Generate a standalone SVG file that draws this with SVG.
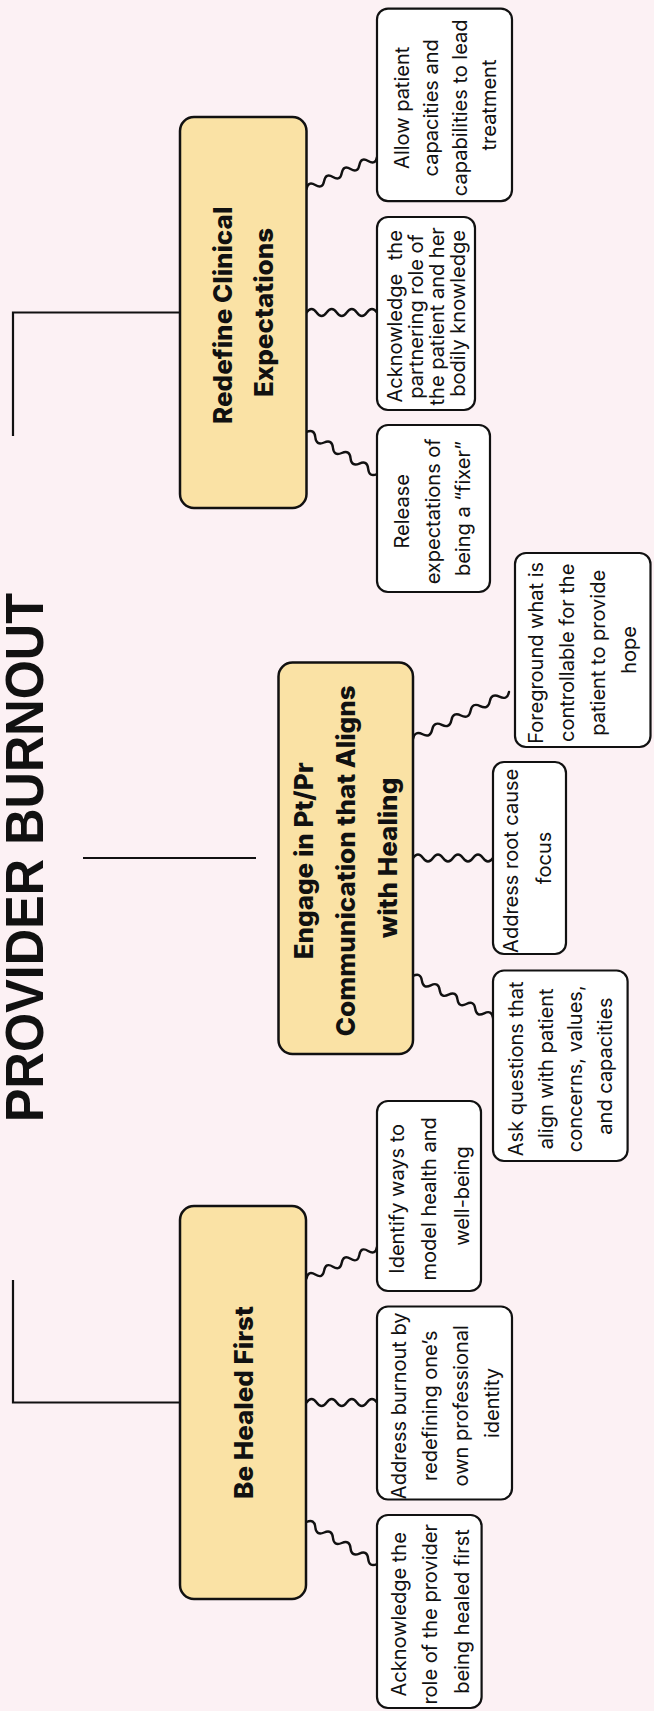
<svg xmlns="http://www.w3.org/2000/svg" width="654" height="1711" viewBox="0 0 654 1711">
  <style>
    .main rect { fill: #FAE2A5; stroke: #111; stroke-width: 2.5; }
    .leaf rect { fill: #FFFFFF; stroke: #111; stroke-width: 2.2; }
    .lbl { font-family: Inter, "Noto Sans", sans-serif; font-weight: 800; font-size: 26px; text-anchor: middle; fill: #111; }
    .txt { font-family: Inter, "Noto Sans", sans-serif; font-size: 20px; text-anchor: middle; fill: #111; }
    .title { font-family: "Liberation Sans", Arial, sans-serif; font-weight: 700; font-size: 54px; text-anchor: middle; fill: #111; }
    .wave { fill: none; stroke: #111; stroke-width: 2.4; stroke-linecap: round; stroke-linejoin: round; }
    .trunk { fill: none; stroke: #111; stroke-width: 2.2; }
  </style>

  <rect width="654" height="1711" fill="#FCF1F4"/>

  <!-- heading, reading bottom to top -->
  <text id="title" class="title" transform="rotate(-90)" x="-857.5" y="43" textLength="529" lengthAdjust="spacingAndGlyphs">PROVIDER BURNOUT</text>

  <!-- connectors: trunk lines and squiggly branches -->
  <g id="connectors">
    <path class="trunk" d="M182,312.5 H13 V436"/>
    <path class="trunk" d="M83,858 H256"/>
    <path class="trunk" d="M13,1280 V1402.5 H182"/>

    <path class="wave" transform="translate(306.5,189) rotate(-24.4)" d="M0,0q4.84,-7 9.68,0t9.68,0t9.68,0t9.68,0t9.68,0t9.68,0t9.68,0t9.68,0"/>
    <path class="wave" transform="translate(306.5,312.5)" d="M0,0q5.04,-7 10.07,0t10.07,0t10.07,0t10.07,0t10.07,0t10.07,0t10.07,0"/>
    <path class="wave" transform="translate(306.5,432) rotate(30.8)" d="M0,0q5.13,-7 10.26,0t10.26,0t10.26,0t10.26,0t10.26,0t10.26,0t10.26,0t10.26,0"/>

    <path class="wave" transform="translate(413,739) rotate(-26.1)" d="M0,0q5.35,-7 10.69,0t10.69,0t10.69,0t10.69,0t10.69,0t10.69,0t10.69,0t10.69,0t10.69,0t10.69,0"/>
    <path class="wave" transform="translate(413,858)" d="M0,0q5,-7 10,0t10,0t10,0t10,0t10,0t10,0t10,0t10,0"/>
    <path class="wave" transform="translate(413,976) rotate(27.7)" d="M0,0q5.02,-7 10.04,0t10.04,0t10.04,0t10.04,0t10.04,0t10.04,0t10.04,0t10.04,0t10.04,0"/>

    <path class="wave" transform="translate(306.5,1278.5) rotate(-24.1)" d="M0,0q4.83,-7 9.65,0t9.65,0t9.65,0t9.65,0t9.65,0t9.65,0t9.65,0t9.65,0"/>
    <path class="wave" transform="translate(306.5,1402.5)" d="M0,0q5.04,-7 10.07,0t10.07,0t10.07,0t10.07,0t10.07,0t10.07,0t10.07,0"/>
    <path class="wave" transform="translate(306.5,1522) rotate(30.8)" d="M0,0q5.13,-7 10.26,0t10.26,0t10.26,0t10.26,0t10.26,0t10.26,0t10.26,0t10.26,0"/>
  </g>

  <!-- main themes -->
  <g id="redefine" class="main">
    <rect x="180" y="117" width="126.5" height="391" rx="14"/>
    <text class="lbl" transform="rotate(-90)">
      <tspan x="-312.5" y="231.6">Redefine Clinical</tspan>
      <tspan x="-312.5" y="273.3">Expectations</tspan>
    </text>
  </g>

  <g id="engage" class="main">
    <rect x="278.5" y="662.5" width="134.5" height="391.5" rx="14"/>
    <text class="lbl" transform="rotate(-90)">
      <tspan x="-858" y="313.3">Engage in Pt/Pr</tspan>
      <tspan x="-858" y="355">Communication that Aligns</tspan>
      <tspan x="-858" y="396.7">with Healing</tspan>
    </text>
  </g>

  <g id="healed" class="main">
    <rect x="180" y="1206" width="126" height="393" rx="14"/>
    <text class="lbl" transform="rotate(-90)">
      <tspan x="-1402.5" y="253">Be Healed First</tspan>
    </text>
  </g>

  <!-- actions under "Redefine Clinical Expectations" -->
  <g id="allow" class="leaf">
    <rect x="377" y="8.6" width="135" height="192.5" rx="11"/>
    <text class="txt" transform="rotate(-90)">
      <tspan x="-105" y="408.5">Allow patient</tspan>
      <tspan x="-105" y="437.5">capacities and</tspan>
      <tspan x="-105" y="466.5">capabilities to lead</tspan>
      <tspan x="-105" y="495.5">treatment</tspan>
    </text>
  </g>

  <g id="partnering" class="leaf">
    <rect x="377" y="217" width="98" height="193" rx="11"/>
    <text class="txt" transform="rotate(-90)">
      <tspan x="-313.5" y="401.5" word-spacing="8">Acknowledge the</tspan>
      <tspan x="-313.5" y="423">partnering role of</tspan>
      <tspan x="-313.5" y="444">the patient and her</tspan>
      <tspan x="-313.5" y="465">bodily knowledge</tspan>
    </text>
  </g>

  <g id="fixer" class="leaf">
    <rect x="377" y="425" width="113" height="167" rx="11"/>
    <text class="txt" transform="rotate(-90)">
      <tspan x="-508.5" y="408.5">Release</tspan>
      <tspan x="-508.5" y="439.5">expectations of</tspan>
      <tspan x="-508.5" y="469.5">being a “fixer”</tspan>
    </text>
  </g>

  <!-- actions under "Engage in Pt/Pr Communication that Aligns with Healing" -->
  <g id="foreground" class="leaf">
    <rect x="515" y="553" width="135.5" height="194" rx="11"/>
    <text class="txt" transform="rotate(-90)">
      <tspan x="-650" y="542.5">Foreground what is</tspan>
      <tspan x="-650" y="573.5">controllable for the</tspan>
      <tspan x="-650" y="604.5">patient to provide</tspan>
      <tspan x="-650" y="635.5">hope</tspan>
    </text>
  </g>

  <g id="rootcause" class="leaf">
    <rect x="493" y="762" width="73" height="192" rx="11"/>
    <text class="txt" transform="rotate(-90)">
      <tspan x="-858" y="518">Address root cause</tspan>
      <tspan x="-858" y="551">focus</tspan>
    </text>
  </g>

  <g id="questions" class="leaf">
    <rect x="493" y="970.5" width="134.6" height="190.5" rx="11"/>
    <text class="txt" transform="rotate(-90)">
      <tspan x="-1066" y="523">Ask questions that</tspan>
      <tspan x="-1066" y="552.5">align with patient</tspan>
      <tspan x="-1066" y="582">concerns, values,</tspan>
      <tspan x="-1066" y="611.5">and capacities</tspan>
    </text>
  </g>

  <!-- actions under "Be Healed First" -->
  <g id="identify" class="leaf">
    <rect x="377" y="1101" width="104" height="190" rx="11"/>
    <text class="txt" transform="rotate(-90)">
      <tspan x="-1196" y="403.5">Identify ways to</tspan>
      <tspan x="-1196" y="436">model health and</tspan>
      <tspan x="-1196" y="468.5">well-being</tspan>
    </text>
  </g>

  <g id="identity" class="leaf">
    <rect x="377" y="1306.5" width="135" height="193" rx="11"/>
    <text class="txt" transform="rotate(-90)">
      <tspan x="-1403" y="405.5">Address burnout by</tspan>
      <tspan x="-1403" y="436.5">redefining one’s</tspan>
      <tspan x="-1403" y="467.5">own professional</tspan>
      <tspan x="-1403" y="498.5">identity</tspan>
    </text>
  </g>

  <g id="providerrole" class="leaf">
    <rect x="377" y="1515" width="104.6" height="193" rx="11"/>
    <text class="txt" transform="rotate(-90)">
      <tspan x="-1611.5" y="405.5">Acknowledge the</tspan>
      <tspan x="-1611.5" y="437">role of the provider</tspan>
      <tspan x="-1611.5" y="468.5">being healed first</tspan>
    </text>
  </g>
</svg>
